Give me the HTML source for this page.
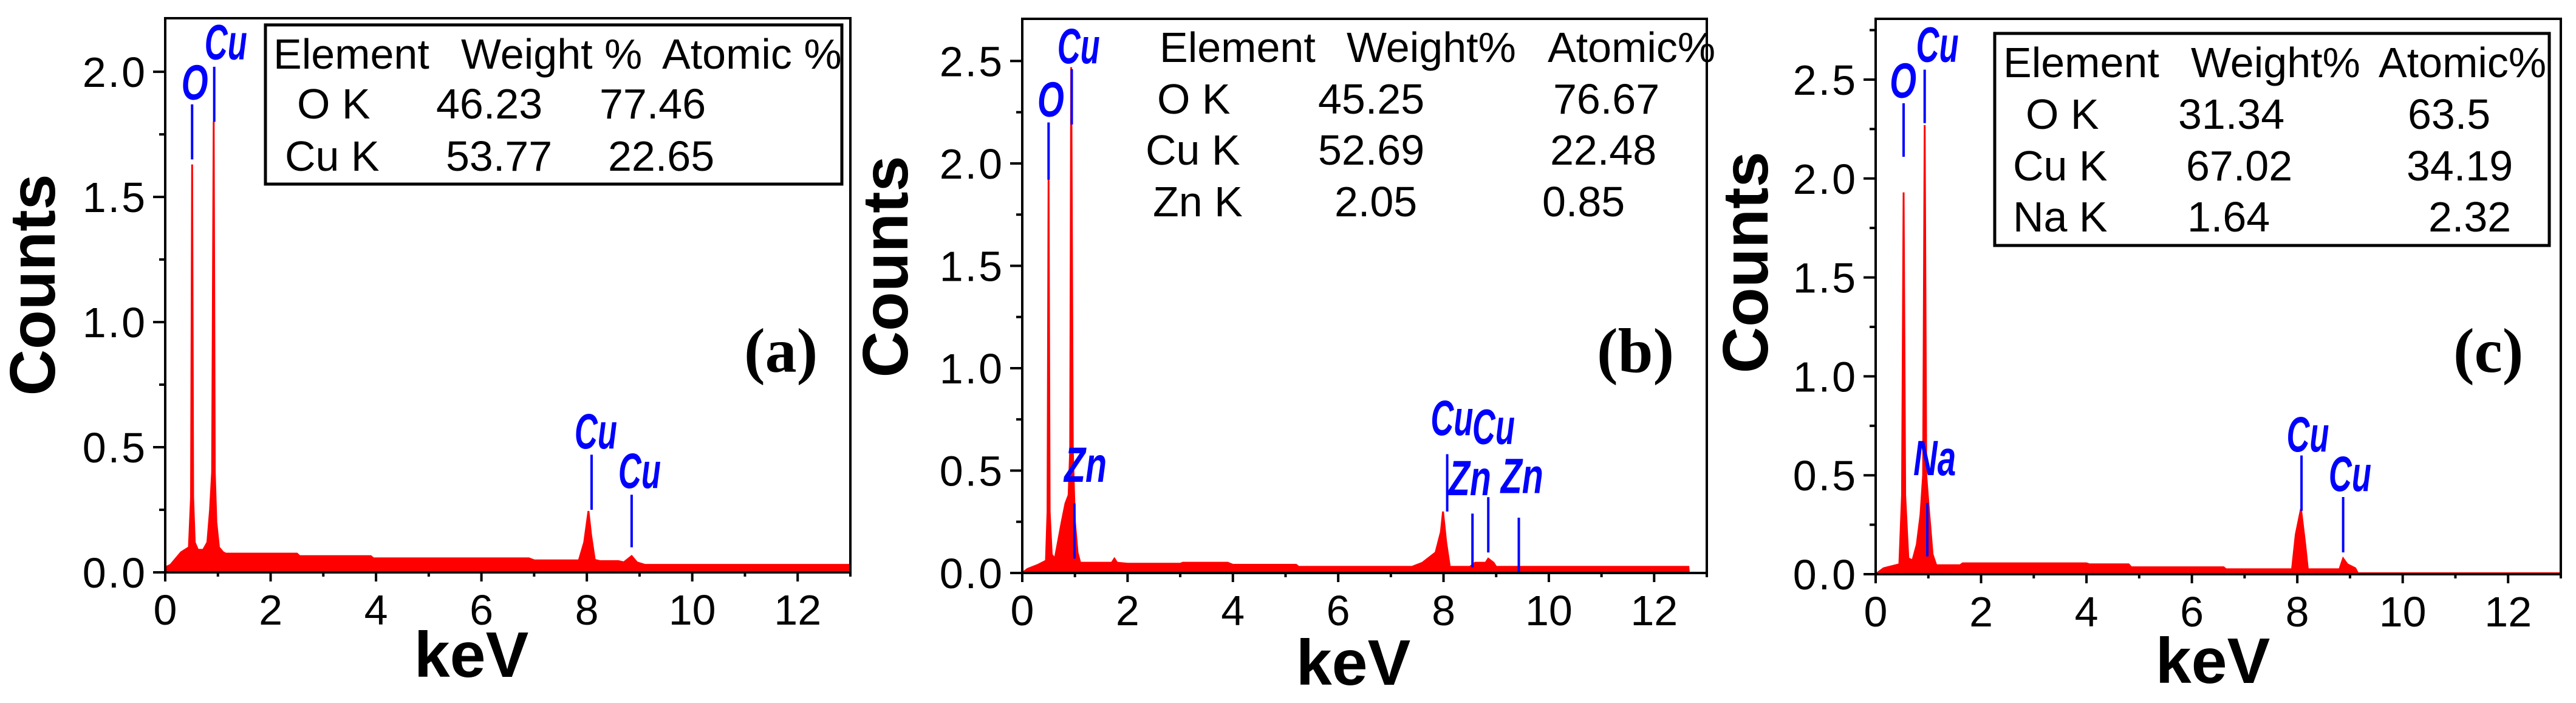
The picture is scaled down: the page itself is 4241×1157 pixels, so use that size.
<!DOCTYPE html>
<html><head><meta charset="utf-8"><style>
html,body{margin:0;padding:0;background:#fff;}
svg{display:block;}
</style></head><body>
<svg id="fig" width="4241" height="1157" viewBox="0 0 4241 1157" xmlns="http://www.w3.org/2000/svg">
<g id="root"></g>
</svg>
<script>
// ---- data ----
const energiesA = [0,0.1,0.3,0.45,0.49,0.51,0.53,0.56,0.62,0.72,0.8,0.85,0.89,0.92,0.94,0.97,1.02,1.1,1.15,2.5,2.55,3.9,3.95,6.9,7.0,7.85,7.95,8.03,8.08,8.15,8.25,8.6,8.7,8.85,8.95,9.1,13];
const countsA   = [0.02,0.03,0.08,0.1,0.3,1.63,0.3,0.12,0.09,0.09,0.12,0.25,0.4,1.8,0.4,0.2,0.1,0.08,0.075,0.075,0.065,0.065,0.056,0.056,0.048,0.048,0.12,0.245,0.15,0.05,0.045,0.045,0.04,0.065,0.04,0.03,0.03];
const energiesB = [0,0.1,0.3,0.45,0.48,0.5,0.52,0.56,0.62,0.75,0.82,0.88,0.91,0.93,0.96,1.0,1.05,1.1,1.7,1.75,1.8,2.0,3.0,3.05,3.9,4.0,5.2,5.25,7.4,7.6,7.85,7.95,7.99,8.05,8.12,8.3,8.5,8.6,8.8,8.85,8.95,9.0,12.65,12.66,13];
const countsB   = [0.0,0.02,0.04,0.06,0.3,1.92,0.3,0.09,0.07,0.25,0.34,0.38,0.6,2.47,0.6,0.25,0.1,0.05,0.05,0.07,0.05,0.045,0.045,0.05,0.05,0.04,0.04,0.03,0.03,0.05,0.1,0.2,0.3,0.15,0.03,0.03,0.03,0.05,0.05,0.07,0.05,0.03,0.03,0,0];
const energiesC = [0,0.15,0.3,0.45,0.5,0.53,0.56,0.62,0.7,0.78,0.85,0.9,0.93,0.96,1.0,1.08,1.15,1.2,1.6,1.65,4.0,4.05,4.8,4.85,6.6,6.65,7.9,7.97,8.07,8.15,8.2,8.8,8.87,8.95,9.1,9.15,13];
const countsC   = [0.0,0.03,0.04,0.05,0.4,1.93,0.4,0.08,0.07,0.15,0.3,0.5,2.27,0.5,0.36,0.1,0.045,0.045,0.045,0.055,0.055,0.05,0.05,0.035,0.035,0.025,0.025,0.2,0.33,0.15,0.025,0.025,0.08,0.05,0.03,0.005,0.005];

const peakNamesA = ["O","Cu","Cu","Cu"];
const peakLineXA = [0.51,0.93,8.09,8.85];
const peakTopA   = [1.87,2.02,0.47,0.31];
const peakBotA   = [1.65,1.80,0.25,0.10];
const peakLabXA  = [0.56,1.15,8.17,9.0];
const peakLabYA  = [1.89,2.05,0.495,0.337];

const peakNamesB = ["O","Cu","Zn","Cu","Cu","Zn","Zn"];
const peakLineXB = [0.50,0.94,0.99,8.07,8.85,8.55,9.43];
const peakTopB   = [2.20,2.46,0.34,0.58,0.37,0.29,0.27];
const peakBotB   = [1.92,2.19,0.07,0.30,0.10,0.027,0.006];
const peakLabXB  = [0.54,1.07,1.20,8.16,8.95,8.50,9.49];
const peakLabYB  = [2.23,2.49,0.445,0.674,0.63,0.38,0.39];

const peakNamesC = ["O","Cu","Na","Cu","Cu"];
const peakLineXC = [0.53,0.93,0.98,8.08,8.87];
const peakTopC   = [2.38,2.55,0.36,0.60,0.39];
const peakBotC   = [2.11,2.28,0.09,0.32,0.11];
const peakLabXC  = [0.52,1.17,1.12,8.2,9.0];
const peakLabYC  = [2.41,2.59,0.50,0.62,0.42];

const xTickLabels = ["0","2","4","6","8","10","12"];
const yTickLabelsA = ["0.0","0.5","1.0","1.5","2.0"];
const yTickLabelsB = ["0.0","0.5","1.0","1.5","2.0","2.5"];
const yTickLabelsC = ["0.0","0.5","1.0","1.5","2.0","2.5"];

const tableHeadA = ["Element","Weight %","Atomic %"];
const tableRowsA = [["O K","46.23","77.46"],["Cu K","53.77","22.65"]];
const tableHeadB = ["Element","Weight%","Atomic%"];
const tableRowsB = [["O K","45.25","76.67"],["Cu K","52.69","22.48"],["Zn K","2.05","0.85"]];
const tableHeadC = ["Element","Weight%","Atomic%"];
const tableRowsC = [["O K","31.34","63.5"],["Cu K","67.02","34.19"],["Na K","1.64","2.32"]];

// ---- layout ----
const NS="http://www.w3.org/2000/svg";
const root=document.getElementById('root');
function mk(tag,attrs,parent){const e=document.createElementNS(NS,tag);for(const k in attrs)e.setAttribute(k,attrs[k]);(parent||root).appendChild(e);return e;}

const panels=[
 {id:"a",L:272,R:1400,B:942,T:30,ymax:2.214,E:energiesA,C:countsA,yt:yTickLabelsA,minorMax:2.0,
  names:peakNamesA,lx:peakLineXA,lt:peakTopA,lb:peakBotA,tx:peakLabXA,ty:peakLabYA,
  head:tableHeadA,rows:tableRowsA,box:[437,41,949,262],
  colX:[[450,759,1090],[489,718,987],[469,734,1001]],rowY:[111,193,279],
  countsX:52,countsY:469,kevX:776,kevY:1114,tag:"(a)",tagX:1225,tagY:612},
 {id:"b",L:1683,R:2810,B:943,T:31,ymax:2.706,E:energiesB,C:countsB,yt:yTickLabelsB,minorMax:2.5,
  names:peakNamesB,lx:peakLineXB,lt:peakTopB,lb:peakBotB,tx:peakLabXB,ty:peakLabYB,
  head:tableHeadB,rows:tableRowsB,box:null,
  colX:[[1909,2217,2548],[1905,2170,2557],[1886,2170,2552],[1898,2197,2539]],rowY:[100,185,269,354],
  countsX:1456,countsY:439,kevX:2228,kevY:1127,tag:"(b)",tagX:2629,tagY:612},
 {id:"c",L:3088,R:4216,B:945,T:31,ymax:2.807,E:energiesC,C:countsC,yt:yTickLabelsC,minorMax:2.75,
  names:peakNamesC,lx:peakLineXC,lt:peakTopC,lb:peakBotC,tx:peakLabXC,ty:peakLabYC,
  head:tableHeadC,rows:tableRowsC,box:[3284,55,913,349],
  colX:[[3298,3607,3916],[3335,3586,3964],[3314,3599,3962],[3314,3601,3998]],rowY:[125,210,295,379],
  countsX:2872,countsY:432,kevX:3643,kevY:1124,tag:"(c)",tagX:4039,tagY:612}
];

panels.forEach(p=>{
  const g=mk('g',{});
  
  
  const xs=v=>p.L+(p.R-p.L)*v/13;
  const ys=v=>p.B-(p.B-p.T)*v/p.ymax;

  let d="M"+xs(p.E[0])+","+p.B;
  for(let i=0;i<p.E.length;i++){d+=" L"+xs(p.E[i]).toFixed(1)+","+ys(p.C[i]).toFixed(1);}
  d+=" L"+xs(p.E[p.E.length-1])+","+p.B+" Z";
  const sp=mk('path',{d:d,fill:'#ff0000',stroke:'#ff0000','stroke-width':3},g);
  
  

  const fr=mk('rect',{x:p.L,y:p.T,width:p.R-p.L,height:p.B-p.T,fill:'none',stroke:'#000','stroke-width':4},g);
  
  

  for(let k=0;k<=13;k++){
    const x=xs(k);const major=k%2===0;
    const t=mk('line',{x1:x,y1:p.B,x2:x,y2:p.B+(major?15:7),stroke:'#000','stroke-width':4},g);
    
    
  }
  xTickLabels.forEach((lab,i)=>{
    const t=mk('text',{x:xs(i*2),y:p.B+86,'text-anchor':'middle','font-family':'Liberation Sans, sans-serif','font-size':70},g);
    t.textContent=lab;
    
    
  });
  for(let v=0;v<=p.minorMax+1e-9;v+=0.25){
    const y=ys(v);const major=Math.abs(v*2-Math.round(v*2))<1e-6;
    const t=mk('line',{x1:p.L-(major?20:10),y1:y,x2:p.L,y2:y,stroke:'#000','stroke-width':4},g);
    
    
  }
  p.yt.forEach((lab,i)=>{
    const t=mk('text',{x:p.L-30,y:ys(i*0.5)+25,'text-anchor':'end','font-family':'Liberation Sans, sans-serif','font-size':70,'letter-spacing':3},g);
    t.textContent=lab;
    
    
  });
  const ct=mk('text',{x:0,y:0,transform:`translate(${p.countsX+38},${p.countsY}) rotate(-90)`,'text-anchor':'middle','font-family':'Liberation Sans, sans-serif','font-weight':'bold','font-size':106},g);
  ct.textContent="Counts";
  
  
  const kt=mk('text',{x:p.kevX,y:p.kevY,'text-anchor':'middle','font-family':'Liberation Sans, sans-serif','font-weight':'bold','font-size':106},g);
  kt.textContent="keV";
  
  
  const tg=mk('text',{x:p.tagX,y:p.tagY,'font-family':'Liberation Serif, serif','font-weight':'bold','font-size':104},g);
  tg.textContent=p.tag;
  
  

  p.names.forEach((nm,i)=>{
    const ln=mk('line',{x1:xs(p.lx[i]),y1:ys(p.lt[i]),x2:xs(p.lx[i]),y2:ys(p.lb[i]),stroke:'#0000ff','stroke-width':4},g);
    
    
    const t=mk('text',{x:xs(p.tx[i]),y:ys(p.ty[i]),'text-anchor':'middle','font-family':'Liberation Sans, sans-serif','font-weight':'bold','font-style':'italic','font-size':82,fill:'#0000ff',textLength:(nm.length>1?70:44),lengthAdjust:'spacingAndGlyphs'},g);
    t.textContent=nm;
    
    
  });

  const tb=mk('g',{},g);
  
  
  if(p.box){
    const r=mk('rect',{x:p.box[0],y:p.box[1],width:p.box[2],height:p.box[3],fill:'#fff',stroke:'#000','stroke-width':5},tb);
    
    
  }
  const allRows=[p.head].concat(p.rows);
  allRows.forEach((row,ri)=>{
    row.forEach((cell,ci)=>{
      const t=mk('text',{x:p.colX[ri][ci],y:p.rowY[ri]+2,'font-family':'Liberation Sans, sans-serif','font-size':70},tb);
      t.textContent=cell;
      
      
    });
  });
});
</script>
</body></html>
